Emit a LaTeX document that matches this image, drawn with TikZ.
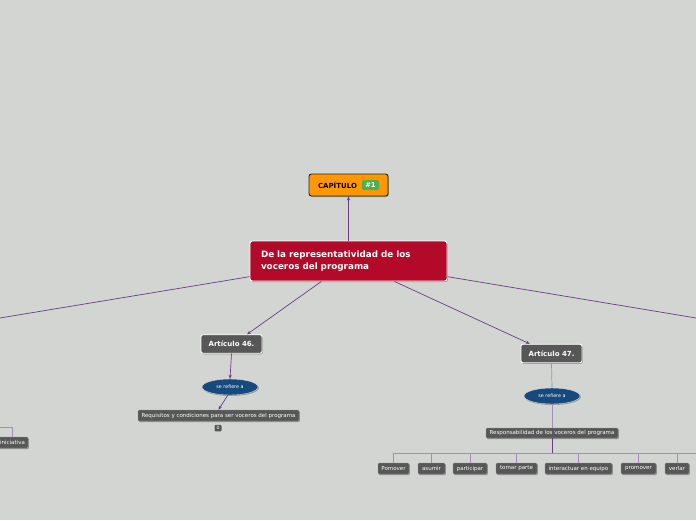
\documentclass[tikz,border=0pt]{standalone}
\usepackage{fontspec}
\setmainfont{DejaVu Sans}
\usetikzlibrary{arrows.meta,shapes.geometric,shadows}
\definecolor{bg}{HTML}{D3D5D3}
\definecolor{conn}{HTML}{6A3D7E}
\definecolor{connlight}{HTML}{A58DB8}
\definecolor{mainred}{HTML}{B20A28}
\definecolor{capor}{HTML}{FF9800}
\definecolor{badgegreen}{HTML}{4CAF50}
\definecolor{boxgray}{HTML}{575757}
\definecolor{ellblue}{HTML}{174A7C}
\begin{document}
\begin{tikzpicture}[x=1pt,y=-1pt,
  conn/.style={draw=conn, line width=0.7pt},
  arr/.style={conn, -{Stealth[length=4pt,width=3.2pt]}},
  treeline/.style={draw=connlight, line width=0.7pt},
  shad/.style={drop shadow={shadow xshift=0.8pt,shadow yshift=-1pt,fill=black,opacity=0.3}},
  mainbox/.style={shad, rectangle, rounded corners=2.5pt, fill=mainred, draw=white, line width=0.9pt,
    text=white, font=\fontsize{8.8}{11.5}\selectfont\bfseries, align=left, text width=175pt,
    inner xsep=11pt, inner ysep=0pt, minimum height=40pt},
  capbox/.style={shad, rectangle, rounded corners=2.5pt, fill=capor, draw=black!85, line width=0.9pt,
    minimum width=79pt, minimum height=22pt, inner sep=0pt},
  captext/.style={inner sep=0pt, font=\fontsize{7}{8}\selectfont\bfseries, text=black},
  badge/.style={rectangle, rounded corners=1.5pt, fill=badgegreen, text=white, inner sep=0pt,
    minimum width=17pt, minimum height=10pt, font=\fontsize{6.8}{7}\selectfont\bfseries},
  artbox/.style={shad, rectangle, rounded corners=2pt, fill=boxgray, draw=white, line width=0.9pt,
    text=white, font=\fontsize{7}{8}\selectfont\bfseries, minimum width=61pt, minimum height=18.5pt, inner sep=0pt},
  ellnode/.style={shad, ellipse, fill=ellblue, draw=white!85!black, line width=0.4pt, text=white,
    font=\fontsize{4.8}{5}\selectfont, minimum width=56pt, minimum height=16pt, inner sep=0pt},
  smallbox/.style={shad, rectangle, rounded corners=1pt, fill=boxgray, draw=white!60!black, line width=0.4pt,
    text=white, font=\fontsize{5.5}{6}\selectfont, minimum height=11pt, inner sep=0pt},
  zerobadge/.style={rectangle, rounded corners=1pt, fill=boxgray, text=white, inner sep=0pt,
    minimum width=7pt, minimum height=6.5pt, font=\fontsize{4.5}{5}\selectfont}]
\fill[bg] (0,0) rectangle (696,520);
\useasboundingbox (0,0) rectangle (696,520);
\clip (0,0) rectangle (696,520);

% off-canvas ends
\coordinate (L) at (-20,321.3);
\coordinate (R) at (716,321.3);
\coordinate (iniL) at (-5,427);
\coordinate (hub) at (552,453);
\coordinate (treeL) at (393.5,453);
\coordinate (treeR) at (700,453);

% nodes
\node[capbox] (cap) at (348.5,185) {};
\node[captext] (captxt) at (337.5,185.3) {CAPÍTULO};
\node[badge] (b1) at (370.5,185) {\#1};

\node[mainbox] (main) at (348.5,261) {De la representatividad de los\\voceros del programa};

\node[artbox] (art46) at (231.5,344) {Artículo 46.};
\node[ellnode] (ell46) at (230,387) {se refiere a};
\node[smallbox, minimum width=161pt] (req) at (218.5,415.5) {Requisitos y condiciones para ser voceros del programa};
\node[zerobadge] (zero) at (218,428) {0};

\node[smallbox, minimum width=31pt] (ini) at (12.5,442.5) {iniciativa};

\node[artbox] (art47) at (551.5,353.5) {Artículo 47.};
\node[ellnode] (ell47) at (552,396) {se refiere a};
\node[smallbox, minimum width=132pt, minimum height=10pt] (resp) at (552,433) {Responsabilidad de los voceros del programa};

\node[smallbox, minimum width=31pt] (c1) at (393.5,468.5) {Pomover};
\node[smallbox, minimum width=27pt] (c2) at (431.5,468.5) {asumir};
\node[smallbox, minimum width=34pt] (c3) at (470,468.5) {participar};
\node[smallbox, minimum width=41pt] (c4) at (516.5,468.5) {tomar parte};
\node[smallbox, minimum width=67pt] (c5) at (578.5,468.5) {interactuar en equipo};
\node[smallbox, minimum width=35pt] (c6) at (638.5,468.5) {promover};
\node[smallbox, minimum width=24pt] (c7) at (677,468.5) {verlar};

% connectors
\draw[arr] (main.north) -- (cap.south);
\draw[conn] (main.189) -- (L);
\draw[conn] (main.351) -- (R);
\draw[arr] (main.217) -- (art46.32);
\draw[arr] (art46.south) -- (ell46.north);
\draw[arr] (ell46.255) -- (req.north);
\draw[treeline] (iniL) -| (ini.north);

\draw[arr] (main.336) -- (art47.156);
\draw[treeline] (art47.south) -- (ell47.north);
\draw[treeline] (ell47.south) -- (resp.north);
\draw[conn] (resp.south) -- (hub);
\draw[treeline] (treeL) -- (treeR);
\foreach \c in {c1,c2,c3,c4,c5,c6,c7}{
  \draw[treeline] (\c.north) -- (\c.north |- hub);
}
\end{tikzpicture}
\end{document}
